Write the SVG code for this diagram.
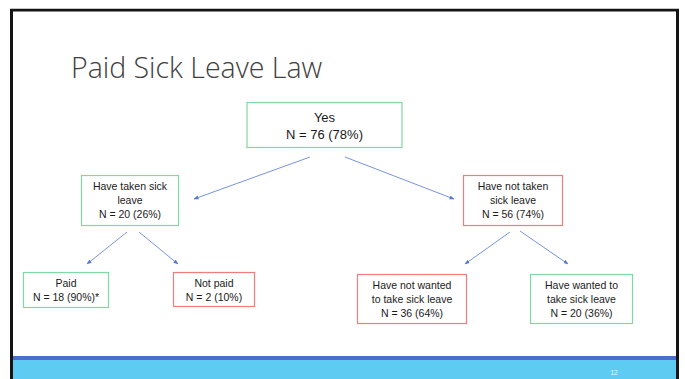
<svg xmlns="http://www.w3.org/2000/svg" width="685" height="379" viewBox="0 0 685 379">
<defs>
<style>
.box{fill:#fff;stroke-width:1.2}
.g{stroke:#7fd9a0}
.r{stroke:#f27c7c}
.t{font-family:"Liberation Sans",Arial,sans-serif;font-size:10.5px;fill:#1a1a1a;text-anchor:middle}
.tb{font-family:"Liberation Sans",Arial,sans-serif;font-size:13px;fill:#1a1a1a;text-anchor:middle}
.c{stroke:#5577d8;stroke-width:0.8;fill:none;marker-end:url(#ah)}
</style>
<marker id="ah" viewBox="0 0 10 10" refX="9" refY="5" markerWidth="5" markerHeight="5" orient="auto" markerUnits="userSpaceOnUse">
<path d="M0,1 L10,5 L0,9 z" fill="#5577d8"/>
</marker>
</defs>
<rect x="0" y="0" width="685" height="379" fill="#fff"/>
<rect x="0" y="360" width="685" height="19" fill="#5ecbf2"/>
<rect x="0" y="356" width="685" height="4" fill="#4d6cce"/>
<path d="M11.5,379 V10 H677.5 V379" fill="none" stroke="#141414" stroke-width="3"/>
<rect x="0" y="0" width="10" height="379" fill="#fff"/>
<rect x="679" y="0" width="6" height="379" fill="#fff"/>
<rect x="0" y="0" width="685" height="8.5" fill="#fff"/>
<text x="71" y="77.5" font-family="'Open Sans',sans-serif" font-weight="300" font-size="28.5" fill="#404040">Paid Sick Leave Law</text>
<text x="614" y="375" font-family="'Liberation Sans',sans-serif" font-size="6.5" fill="#e8f6fd" text-anchor="middle">12</text>
<g id="connectors">
<line class="c" x1="310" y1="157" x2="194" y2="199"/>
<line class="c" x1="345" y1="157" x2="454" y2="199"/>
<line class="c" x1="127" y1="232" x2="87" y2="264"/>
<line class="c" x1="139" y1="232" x2="178" y2="264"/>
<line class="c" x1="510" y1="232" x2="465" y2="264"/>
<line class="c" x1="520" y1="231" x2="568" y2="264"/>
</g>
<g id="yes">
<rect class="box g" x="247" y="102.5" width="155" height="45"/>
<text class="tb" x="324.5" y="121.5">Yes</text>
<text class="tb" x="324.5" y="139">N = 76 (78%)</text>
</g>
<g id="taken">
<rect class="box g" x="81.5" y="175.5" width="97" height="50"/>
<text class="t" x="130" y="190">Have taken sick</text>
<text class="t" x="130" y="204">leave</text>
<text class="t" x="130" y="218">N = 20 (26%)</text>
</g>
<g id="nottaken">
<rect class="box r" x="463.5" y="175.5" width="99" height="50"/>
<text class="t" x="513" y="190">Have not taken</text>
<text class="t" x="513" y="204">sick leave</text>
<text class="t" x="513" y="218">N = 56 (74%)</text>
</g>
<g id="paid">
<rect class="box g" x="23.5" y="272.5" width="85" height="35"/>
<text class="t" x="66" y="287">Paid</text>
<text class="t" x="66" y="301">N = 18 (90%)*</text>
</g>
<g id="notpaid">
<rect class="box r" x="173.5" y="272.5" width="81" height="34"/>
<text class="t" x="214" y="287">Not paid</text>
<text class="t" x="214" y="301">N = 2 (10%)</text>
</g>
<g id="notwanted">
<rect class="box r" x="357.5" y="274.5" width="109" height="49"/>
<text class="t" x="412" y="289">Have not wanted</text>
<text class="t" x="412" y="303">to take sick leave</text>
<text class="t" x="412" y="317">N = 36 (64%)</text>
</g>
<g id="wanted">
<rect class="box g" x="530.5" y="274.5" width="102" height="49"/>
<text class="t" x="581.5" y="289">Have wanted to</text>
<text class="t" x="581.5" y="303">take sick leave</text>
<text class="t" x="581.5" y="317">N = 20 (36%)</text>
</g>
</svg>
